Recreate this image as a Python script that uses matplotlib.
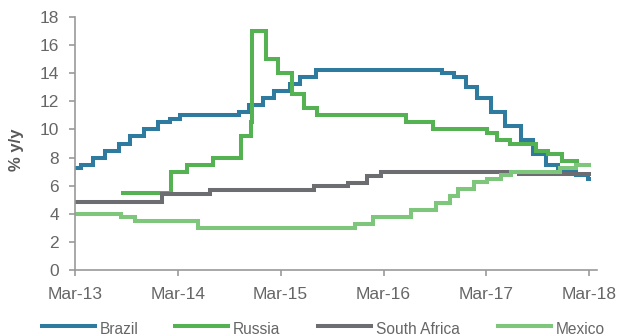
import datetime as dt
import matplotlib
matplotlib.use('Agg')
import matplotlib.pyplot as plt
from matplotlib.lines import Line2D

plt.rcParams['font.family'] = ['Liberation Sans', 'DejaVu Sans']

# policy rate changes (date of change, new level in % y/y)
brazil_dates = ['2013-03-26', '2013-04-17', '2013-05-29', '2013-07-10', '2013-08-28',
                '2013-10-09', '2013-11-27', '2014-01-15', '2014-02-26', '2014-04-02',
                '2014-10-29', '2014-12-03', '2015-01-21', '2015-03-04', '2015-04-29',
                '2015-06-03', '2015-07-29', '2016-10-19', '2016-11-30', '2017-01-11',
                '2017-02-22', '2017-04-12', '2017-05-31', '2017-07-26', '2017-09-06',
                '2017-10-25', '2017-12-06', '2018-02-07', '2018-03-21']
brazil_rates = [7.25, 7.5, 8.0, 8.5, 9.0, 9.5, 10.0, 10.5, 10.75, 11.0, 11.25, 11.75,
                12.25, 12.75, 13.25, 13.75, 14.25, 14.0, 13.75, 13.0, 12.25, 11.25,
                10.25, 9.25, 8.25, 7.5, 7.0, 6.75, 6.5]

russia_dates = ['2013-09-13', '2014-03-03', '2014-04-28', '2014-07-28', '2014-11-05',
                '2014-12-12', '2014-12-16', '2015-02-02', '2015-03-16', '2015-05-05',
                '2015-06-16', '2015-08-03', '2016-06-14', '2016-09-19', '2017-03-27',
                '2017-05-02', '2017-06-19', '2017-09-18', '2017-10-30', '2017-12-18',
                '2018-02-12']
russia_rates = [5.5, 7.0, 7.5, 8.0, 9.5, 10.5, 17.0, 15.0, 14.0, 12.5, 11.5, 11.0,
                10.5, 10.0, 9.75, 9.25, 9.0, 8.5, 8.25, 7.75, 7.5]

safrica_dates = ['2013-03-26', '2014-01-29', '2014-07-17', '2015-07-23', '2015-11-19',
                 '2016-01-28', '2016-03-17', '2017-07-20']
safrica_rates = [4.85, 5.42, 5.72, 5.95, 6.2, 6.72, 6.97, 6.8]

mexico_dates = ['2013-03-26', '2013-09-06', '2013-10-25', '2014-06-06', '2015-12-17',
                '2016-02-17', '2016-06-30', '2016-09-29', '2016-11-17', '2016-12-15',
                '2017-02-09', '2017-03-30', '2017-05-18', '2017-06-22', '2017-12-14',
                '2018-02-08']
mexico_rates = [4.0, 3.75, 3.5, 3.0, 3.25, 3.75, 4.25, 4.75, 5.25, 5.75, 6.25, 6.5,
                6.75, 7.0, 7.25, 7.5]

end_date = '2018-03-26'
tick_labels = ['Mar-13', 'Mar-14', 'Mar-15', 'Mar-16', 'Mar-17', 'Mar-18']

series = [
    ('Brazil', brazil_dates, brazil_rates, '#2F7BA0'),
    ('Russia', russia_dates, russia_rates, '#55B252'),
    ('South Africa', safrica_dates, safrica_rates, '#6C6D70'),
    ('Mexico', mexico_dates, mexico_rates, '#7EC67C'),
]

def to_dt(s):
    return dt.datetime.strptime(s, '%Y-%m-%d')

fig = plt.figure(figsize=(6.32, 3.36), dpi=100)
ax = fig.add_axes([75 / 632, 1 - 270 / 336, 522 / 632, 253 / 336])

lw = 2.9
# series order as in the legend, later ones drawn on top
for name, dates, rates, color in series:
    x = [to_dt(d) for d in dates] + [to_dt(end_date)]
    y = list(rates) + [rates[-1]]
    ax.step(x, y, where='post', color=color, lw=lw, solid_joinstyle='miter')

ax.set_ylim(0, 18)
ax.set_yticks(range(0, 19, 2))
ax.set_xlim(to_dt('2013-03-26'), to_dt('2018-04-23'))
ax.set_xticks([dt.datetime(2013 + i, 3, 26) for i in range(6)])
ax.set_xticklabels(tick_labels)

spine_col = '#9A9A9A'
for side in ['top', 'right']:
    ax.spines[side].set_visible(False)
for side in ['left', 'bottom']:
    ax.spines[side].set_color(spine_col)
    ax.spines[side].set_linewidth(1.2)
ax.tick_params(axis='both', colors=spine_col, width=1.2, length=4.5, labelsize=12.5,
               labelcolor='#666666')
ax.tick_params(axis='y', pad=7)
ax.tick_params(axis='x', pad=8)

fig.text(17 / 632, 1 - 150 / 336, '% y/y', rotation=90, fontsize=12, fontweight='bold',
         color='#595959', ha='center', va='center')

# legend row along the bottom edge
handle_x = [42, 175, 318, 498]
for (name, dates, rates, color), x0 in zip(series, handle_x):
    fig.add_artist(Line2D([x0 / 632, (x0 + 53) / 632], [1 - 326 / 336] * 2,
                          transform=fig.transFigure, color=color, lw=lw))
    fig.text((x0 + 58) / 632, 1 - 322 / 336, name, fontsize=11.2, color='#666666',
             ha='left', va='top')

fig.savefig('out.png', dpi=100)
